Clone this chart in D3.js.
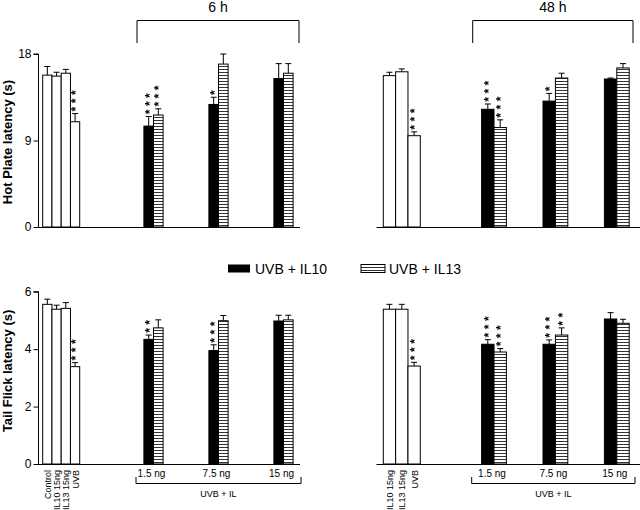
<!DOCTYPE html>
<html><head><meta charset="utf-8">
<script src="https://cdn.jsdelivr.net/npm/d3@7"></script>
<style>body{margin:0;background:#fff}svg{display:block}text{font-family:Arial,"Liberation Sans",sans-serif;fill:#000}.sig{filter:grayscale(100%)}</style>
</head><body><svg id="c" width="640" height="510"></svg>
<script>
// ---- data ----
const ctrlLabelsL = ["Control","IL10 15ng","IL13 15ng","UVB"];
const ctrlLabelsR = ["IL10 15ng","IL13 15ng","UVB"];
const doses = ["1.5 ng","7.5 ng","15 ng"];
const seriesNames = ["UVB + IL10","UVB + IL13"];
const timeLabels = ["6 h","48 h"];
const groupLabel = "UVB + IL";
const hotTicks = [0,9,18];
const tailTicks = [0,2,4,6];

const hot6Ctrl = [15.8,15.7,16.0,10.95];   const hot6CtrlErr = [0.9,0.4,0.4,0.85];   const hot6CtrlSig = ["","","","***"];
const hot6IL10 = [10.5,12.75,15.45];        const hot6IL10Err = [1.0,0.75,1.55];       const hot6IL10Sig = ["***","*",""];
const hot6IL13 = [11.65,16.95,16.0];        const hot6IL13Err = [0.65,1.05,1.0];       const hot6IL13Sig = ["***","",""];
const hot48Ctrl = [15.75,16.15,9.5];        const hot48CtrlErr = [0.35,0.3,0.4];       const hot48CtrlSig = ["","","***"];
const hot48IL10 = [12.25,13.1,15.4];        const hot48IL10Err = [0.55,0.8,0.1];       const hot48IL10Sig = ["***","*",""];
const hot48IL13 = [10.35,15.5,16.55];       const hot48IL13Err = [0.8,0.5,0.45];       const hot48IL13Sig = ["***","",""];
const tail6Ctrl = [5.56,5.39,5.42,3.39];    const tail6CtrlErr = [0.18,0.14,0.2,0.14]; const tail6CtrlSig = ["","","","***"];
const tail6IL10 = [4.34,3.95,4.98];         const tail6IL10Err = [0.15,0.2,0.2];       const tail6IL10Sig = ["**","***",""];
const tail6IL13 = [4.74,4.99,5.02];         const tail6IL13Err = [0.28,0.18,0.16];     const tail6IL13Sig = ["","",""];
const tail48Ctrl = [5.39,5.39,3.41];        const tail48CtrlErr = [0.17,0.17,0.13];    const tail48CtrlSig = ["","","***"];
const tail48IL10 = [4.17,4.17,5.05];        const tail48IL10Err = [0.16,0.15,0.22];    const tail48IL10Sig = ["***","***",""];
const tail48IL13 = [3.9,4.49,4.9];          const tail48IL13Err = [0.12,0.25,0.14];    const tail48IL13Sig = ["***","**",""];

// ---- drawing ----
const svg = d3.select("#c");
const defs = svg.append("defs");
const pat = defs.append("pattern").attr("id","stripe").attr("patternUnits","userSpaceOnUse")
  .attr("width",6).attr("height",3);
pat.append("rect").attr("width",6).attr("height",3).attr("fill","#fff");
pat.append("rect").attr("y",0).attr("width",6).attr("height",1).attr("fill","#333");

const yHot = d3.scaleLinear().domain([0,18]).range([227,54]);
const yTail = d3.scaleLinear().domain([0,6]).range([464,291.7]);

const panels = {
  left: {ctrl: d3.scaleBand().domain(ctrlLabelsL).range([42.7,79.7]).padding(0),
         grp: d3.scalePoint().domain(doses).range([153.5,283.5]), bw: 9.6,
         base:[38,300], axis:true, bracket:[137,299]},
  right:{ctrl: d3.scaleBand().domain(ctrlLabelsR).range([383.3,420.3]).padding(0),
         grp: d3.scalePoint().domain(doses).range([494,616.8]), bw: 12.4,
         base:[376.5,640], axis:false, bracket:[472.7,633]}
};

function stars(g, x, yTop, s){
  // one vertical text per stack of stars (rotated), stars spaced ~8.5px
  g.append("text").attr("class","sig").attr("transform",`translate(${x},${yTop-2.2}) rotate(-90)`)
    .attr("dy","0.42em").attr("font-size",12).attr("font-weight","bold").attr("letter-spacing","3.5px")
    .attr("fill","#000").text(s);
}
function bar(g, x0, w, y, v, e, fill, sig){
  const top = y(v), eTop = y(v+e), xc = x0 + w/2;
  g.append("line").attr("x1",xc).attr("x2",xc).attr("y1",top).attr("y2",eTop).attr("stroke","#000");
  g.append("line").attr("x1",xc-3).attr("x2",xc+3).attr("y1",eTop).attr("y2",eTop).attr("stroke","#000");
  g.append("rect").attr("x",x0).attr("y",top).attr("width",w).attr("height",y(0)-top)
    .attr("fill",fill).attr("stroke","#000").attr("stroke-width",1);
  if(sig) stars(g, xc, eTop, sig);
}
function panel(p, y, ticks, ctrl, ctrlErr, ctrlSig, s1, s1e, s1s, s2, s2e, s2s){
  const g = svg.append("g");
  g.append("line").attr("x1",p.base[0]).attr("x2",p.base[1]).attr("y1",y(0)+0.5).attr("y2",y(0)+0.5).attr("stroke","#000");
  if(p.axis){
    const ax = g.append("g").attr("transform",`translate(${p.base[0]+0.5},0)`)
      .call(d3.axisLeft(y).tickValues(ticks).tickSize(5).tickFormat(d3.format("d")));
    ax.select(".domain").attr("d",`M-5,${y(ticks[ticks.length-1])}H0V${y(0)}`);
    ax.selectAll("text").attr("font-size",12).attr("font-family","Arial").attr("dx","1");
  }
  p.ctrl.domain().forEach((c,i)=>bar(g,p.ctrl(c),p.ctrl.bandwidth(),y,ctrl[i],ctrlErr[i],"#fff",ctrlSig[i]));
  doses.forEach((d,i)=>{
    const cx = p.grp(d);
    bar(g,cx-p.bw,p.bw,y,s1[i],s1e[i],"#000",s1s[i]);
    bar(g,cx,p.bw,y,s2[i],s2e[i],"url(#stripe)",s2s[i]);
  });
  return g;
}
panel(panels.left,yHot,hotTicks,hot6Ctrl,hot6CtrlErr,hot6CtrlSig,hot6IL10,hot6IL10Err,hot6IL10Sig,hot6IL13,hot6IL13Err,hot6IL13Sig);
panel(panels.right,yHot,hotTicks,hot48Ctrl,hot48CtrlErr,hot48CtrlSig,hot48IL10,hot48IL10Err,hot48IL10Sig,hot48IL13,hot48IL13Err,hot48IL13Sig);
panel(panels.left,yTail,tailTicks,tail6Ctrl,tail6CtrlErr,tail6CtrlSig,tail6IL10,tail6IL10Err,tail6IL10Sig,tail6IL13,tail6IL13Err,tail6IL13Sig);
panel(panels.right,yTail,tailTicks,tail48Ctrl,tail48CtrlErr,tail48CtrlSig,tail48IL10,tail48IL10Err,tail48IL10Sig,tail48IL13,tail48IL13Err,tail48IL13Sig);

// top brackets
[panels.left,panels.right].forEach((p,i)=>{
  const [a,b]=p.bracket;
  svg.append("path").attr("d",`M${a},43V20.5H${b}V43`).attr("fill","none").attr("stroke","#000");
  svg.append("text").attr("x",(a+b)/2).attr("y",12).attr("text-anchor","middle").attr("font-size",14).text(timeLabels[i]);
});
// bottom labels
[panels.left,panels.right].forEach((p)=>{
  p.ctrl.domain().forEach(c=>{
    const x = p.ctrl(c)+p.ctrl.bandwidth()/2+3.5;
    svg.append("text").attr("transform",`translate(${x},470) rotate(-90)`).attr("text-anchor","end")
      .attr("font-size",9).text(c);
  });
  doses.forEach(d=>{
    svg.append("text").attr("x",p.grp(d)-2).attr("y",477).attr("text-anchor","middle").attr("font-size",10).text(d);
  });
  const a = p.bracket[0]-1, b = p.bracket[1]+2;
  svg.append("path").attr("d",`M${a},477V483.5H${b}V477`).attr("fill","none").attr("stroke","#000");
  svg.append("text").attr("x",(a+b)/2).attr("y",497).attr("text-anchor","middle").attr("font-size",9).text(groupLabel);
});
// y titles
[["Hot Plate latency (s)",142],["Tail Flick latency (s)",371]].forEach(([t,cy])=>{
  svg.append("text").attr("transform",`translate(12,${cy}) rotate(-90)`).attr("text-anchor","middle")
    .attr("font-size",13).attr("font-weight","bold").text(t);
});
// legend
const lg = svg.append("g");
lg.append("rect").attr("x",228).attr("y",264.5).attr("width",22).attr("height",8).attr("fill","#000");
lg.append("text").attr("x",255).attr("y",274).attr("font-size",14).text(seriesNames[0]);
lg.append("rect").attr("x",361).attr("y",264.5).attr("width",24).attr("height",8).attr("fill","url(#stripe)").attr("stroke","#000");
lg.append("text").attr("x",389).attr("y",274).attr("font-size",14).text(seriesNames[1]);
</script></body></html>
